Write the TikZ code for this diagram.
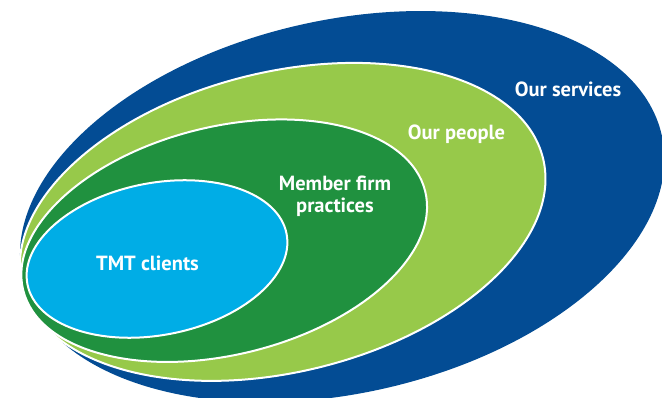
\documentclass[tikz,border=0pt]{standalone}
\usepackage{fontspec}
\setmainfont{PT Sans}
\definecolor{servblue}{HTML}{034C94}
\definecolor{peoplegreen}{HTML}{97C94A}
\definecolor{firmgreen}{HTML}{20913F}
\definecolor{clientcyan}{HTML}{00ADE6}

\begin{document}
\begin{tikzpicture}[x=1pt,y=1pt,
  ring/.style={draw=white,line width=2pt},
  lbl/.style={text=white,font=\fontsize{20.5}{22}\selectfont\bfseries,align=center}]
\useasboundingbox (0,0) rectangle (662,-398);
\clip (0,0) rectangle (662,-398);

% centres of the four layers
\coordinate (srv) at (342.2,-206.7);
\coordinate (ppl) at (282.7,-221.9);
\coordinate (frm) at (224.2,-240.7);
\coordinate (cli) at (157,-259);

\fill[servblue,rotate around={12.6:(srv)}] (srv) ellipse (327.5 and 186.6);
\filldraw[ring,fill=peoplegreen,rotate around={13.7:(ppl)}] (ppl) ellipse (268 and 150);
\filldraw[ring,fill=firmgreen,rotate around={13.8:(frm)}] (frm) ellipse (207 and 114);
\filldraw[ring,fill=clientcyan,rotate around={11:(cli)}] (cli) ellipse (132 and 76);

\node[lbl,anchor=base] (services) at (568,-97) {Our services};
\node[lbl,anchor=base] (people) at (456.5,-140) {Our people};
\node[lbl] (practices) at (335,-196) {Member firm\\practices};
\node[lbl,anchor=base] (clients) at (147.5,-271) {TMT clients};
\end{tikzpicture}
\end{document}
